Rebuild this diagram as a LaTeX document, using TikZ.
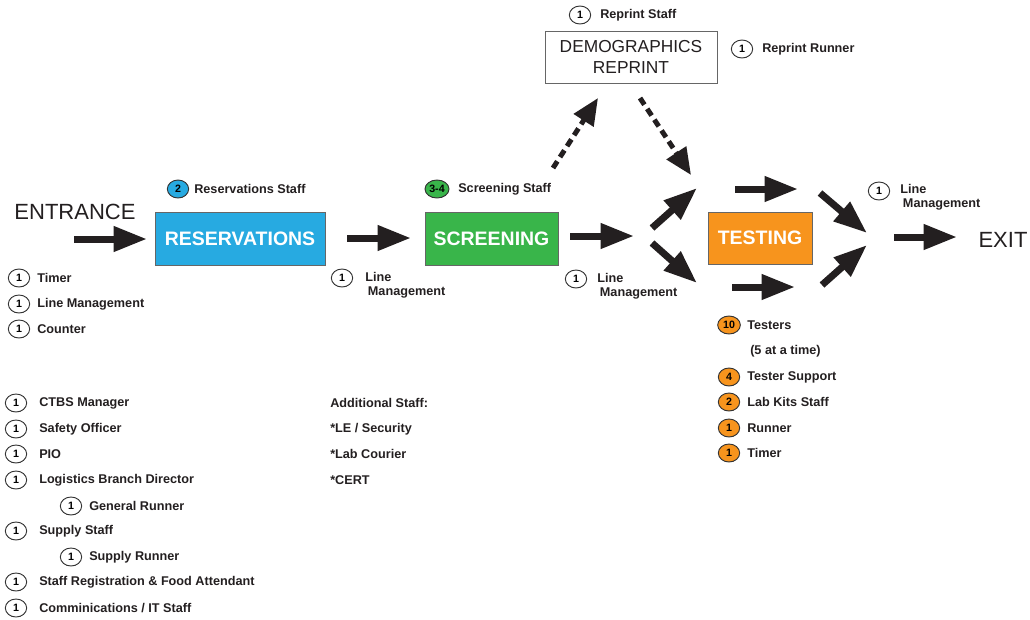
\documentclass[tikz,border=0pt]{standalone}
\usepackage{fontspec}
\setmainfont{Liberation Sans}
\usetikzlibrary{arrows.meta,shapes.geometric}
\definecolor{resblue}{RGB}{39,170,225}
\definecolor{scrgreen}{RGB}{57,181,74}
\definecolor{testorange}{RGB}{247,148,29}
\definecolor{ink}{RGB}{35,31,32}
\begin{document}
\begin{tikzpicture}[x=0.75pt,y=-0.75pt,
 badge/.style={ellipse,draw=black!80,line width=0.7pt,fill=white,minimum width=16pt,minimum height=13.5pt,inner sep=0pt,font=\bfseries\fontsize{8}{8}\selectfont},
 lbl/.style={anchor=west,font=\bfseries\fontsize{9.5}{11}\selectfont,inner sep=0pt,text=ink},
 lbltwo/.style={anchor=north west,align=left,font=\bfseries\fontsize{9.5}{10.5}\selectfont,inner sep=0pt,text=ink},
 bigarrow/.style={draw=ink,line width=5.25pt,-{Triangle[length=25pt,width=18pt]}},
 dasharrow/.style={draw=ink,line width=3.75pt,dash pattern=on 6pt off 3.75pt,-{Triangle[length=20pt,width=17pt]}},
 stagebox/.style={draw=black!60,line width=0.6pt,text=white,font=\bfseries\fontsize{14.6}{14.6}\selectfont,minimum height=39.75pt,inner sep=0pt},
 bigtext/.style={font=\fontsize{16.5}{18}\selectfont,text=ink,inner sep=0pt},
]
\useasboundingbox (0,0) rectangle (1030,619);

% stage boxes
\node[stagebox,fill=resblue,minimum width=127.5pt] (res) at (240,238.5) {RESERVATIONS};
\node[stagebox,fill=scrgreen,minimum width=99.75pt] (scr) at (491.5,238.5) {SCREENING};
\node[stagebox,fill=testorange,minimum width=78pt,minimum height=39pt] (test) at (760,238) {TESTING};
\node[draw=black!60,line width=0.6pt,fill=white,minimum width=129pt,minimum height=39pt,inner sep=0pt,align=center,font=\fontsize{13}{15.5}\selectfont,text=ink] (demo) at (631,57) {DEMOGRAPHICS\\REPRINT};

\node[bigtext] (entrance) at (75,212) {ENTRANCE};
\node[bigtext] (exit) at (1003,240) {EXIT};

% arrow end points
\coordinate (a1s) at (74,239);  \coordinate (a1e) at (147,239);
\coordinate (a2s) at (347,238); \coordinate (a2e) at (411,238);
\coordinate (a3s) at (570,236); \coordinate (a3e) at (634,236);
\coordinate (a4s) at (652,228); \coordinate (a4e) at (697,188);
\coordinate (a5s) at (652,243); \coordinate (a5e) at (697,283);
\coordinate (a6s) at (735,189); \coordinate (a6e) at (798,189);
\coordinate (a7s) at (732,287); \coordinate (a7e) at (795,287);
\coordinate (a8s) at (820,193); \coordinate (a8e) at (867,233);
\coordinate (a9s) at (822,285); \coordinate (a9e) at (867,245);
\coordinate (a10s) at (894,237); \coordinate (a10e) at (957,237);
\coordinate (d1s) at (553,168); \coordinate (d1e) at (598,98);
\coordinate (d2s) at (640,98);  \coordinate (d2e) at (691,175);

\foreach \a in {a1,a2,a3,a4,a5,a6,a7,a8,a9,a10}
  \draw[bigarrow] (\a s) -- (\a e);
\draw[dasharrow] (d1s) -- (d1e);
\draw[dasharrow] (d2s) -- (d2e);

% staff badges near stages
\node[badge,fill=resblue] (b2) at (178,189) {2};
\node[lbl] (l2) at (194,189) {Reservations Staff};
\node[badge,fill=scrgreen,minimum width=18pt] (b34) at (437,189) {3-4};
\node[lbl] (l34) at (458,189) {Screening Staff};

\node[badge] (brs) at (580,15) {1};
\node[lbl] (lrs) at (600,15) {Reprint Staff};
\node[badge] (brr) at (742,49) {1};
\node[lbl] (lrr) at (762,49) {Reprint Runner};

% entrance list
\node[badge] (be1) at (19,278) {1}; \node[lbl] (le1) at (37,278) {Timer};
\node[badge] (be2) at (19,304) {1}; \node[lbl] (le2) at (37,304) {Line Management};
\node[badge] (be3) at (19,329) {1}; \node[lbl] (le3) at (37,329) {Counter};

% line management labels
\node[badge] (bl1) at (342,278) {1};
\node[lbltwo] (ll1) at (365,272) {Line\\\hspace*{2pt}Management};
\node[badge] (bl2) at (576,279) {1};
\node[lbltwo] (ll2) at (597,273) {Line\\\hspace*{2pt}Management};
\node[badge] (bl3) at (879,191) {1};
\node[lbltwo] (ll3) at (900,184) {Line\\\hspace*{2pt}Management};

% testing staff
\node[badge,fill=testorange,minimum width=17pt] (bt1) at (729,325) {10}; \node[lbl] (lt1) at (747,325) {Testers};
\node[lbl] (lt1b) at (750,351) {(5 at a time)};
\node[badge,fill=testorange] (bt2) at (729,377) {4}; \node[lbl] (lt2) at (747,377) {Tester Support};
\node[badge,fill=testorange] (bt3) at (729,402) {2}; \node[lbl] (lt3) at (747,402) {Lab Kits Staff};
\node[badge,fill=testorange] (bt4) at (729,428) {1}; \node[lbl] (lt4) at (747,428) {Runner};
\node[badge,fill=testorange] (bt5) at (729,453) {1}; \node[lbl] (lt5) at (747,453) {Timer};

% general staff list
\node[badge] (g1) at (16,403) {1}; \node[lbl] (gl1) at (39,403) {CTBS Manager};
\node[badge] (g2) at (16,429) {1}; \node[lbl] (gl2) at (39,429) {Safety Officer};
\node[badge] (g3) at (16,454) {1}; \node[lbl] (gl3) at (39,454) {PIO};
\node[badge] (g4) at (16,480) {1}; \node[lbl] (gl4) at (39,480) {Logistics Branch Director};
\node[badge] (g5) at (71,506) {1}; \node[lbl] (gl5) at (89,506) {General Runner};
\node[badge] (g6) at (16,531) {1}; \node[lbl] (gl6) at (39,531) {Supply Staff};
\node[badge] (g7) at (71,557) {1}; \node[lbl] (gl7) at (89,557) {Supply Runner};
\node[badge] (g8) at (16,582) {1}; \node[lbl] (gl8) at (39,582) {Staff Registration \& Food Attendant};
\node[badge] (g9) at (16,608) {1}; \node[lbl] (gl9) at (39,608) {Comminications / IT Staff};

% additional staff
\node[lbl] (as0) at (330,403) {Additional Staff:};
\node[lbl] (as1) at (330,429) {*LE / Security};
\node[lbl] (as2) at (330,454) {*Lab Courier};
\node[lbl] (as3) at (330,480) {*CERT};
\end{tikzpicture}
\end{document}
